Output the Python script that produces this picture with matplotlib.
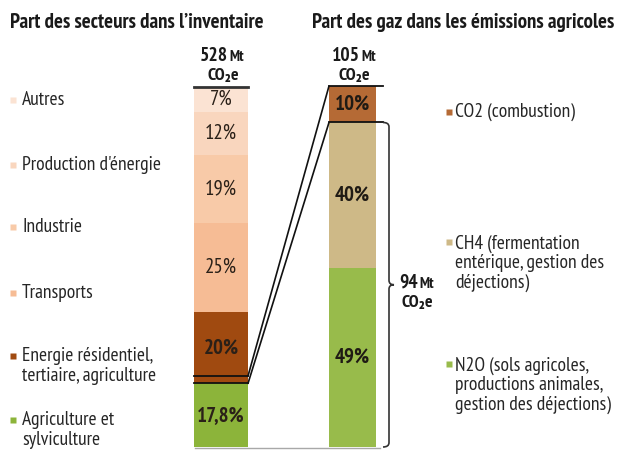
import matplotlib
matplotlib.use("Agg")
from matplotlib import pyplot as plt
from matplotlib import font_manager
from matplotlib.patches import ConnectionPatch, PathPatch
from matplotlib.path import Path
from matplotlib import transforms

# parts des secteurs (du bas vers le haut), en %
secteurs = ["Agriculture et\nsylviculture", "Energie résidentiel,\ntertiaire, agriculture",
            "Transports", "Industrie", "Production d'énergie", "Autres"]
parts_secteurs = [17.8, 20, 25, 19, 12, 7]
couleurs_secteurs = ["#8cb43a", "#a04a10", "#f6bc95", "#f8caa8", "#f9d6be", "#fbe3d3"]

# parts des gaz dans les emissions agricoles (du bas vers le haut), en %
gaz = ["N2O (sols agricoles,\nproductions animales,\ngestion des déjections)",
       "CH4 (fermentation\nentérique, gestion des\ndéjections)",
       "CO2 (combustion)"]
parts_gaz = [49, 40, 10]
couleurs_gaz = ["#98bb4b", "#ceb987", "#b56a35"]

total_mt = 528
agri_mt = 105
agri_hors_co2_mt = 94

# police etroite avec une graisse grasse si possible
choix = ["Arial Narrow", "Liberation Sans Narrow", "PT Sans Narrow", "Roboto Condensed",
         "Fira Sans Condensed", "IBM Plex Sans Condensed", "Archivo Narrow", "Liberation Sans"]
police = "Liberation Sans"
for p in choix:
    poids = [f.weight for f in font_manager.fontManager.ttflist if f.name == p]
    poids = [int(w) if str(w).isdigit() else (700 if w == "bold" else 400) for w in poids]
    if any(w <= 500 for w in poids) and any(w >= 600 for w in poids):
        police = p
        break
plt.rcParams["font.family"] = [police, "DejaVu Sans"]

fig = plt.figure(figsize=(6.23, 4.5), dpi=100)
W, H = 623, 450

def px_axes(x0, y_top, w, h):
    return fig.add_axes([x0 / W, (H - y_top - h) / H, w / W, h / H])

axl = px_axes(194, 87, 54, 360)
axr = px_axes(329, 86, 54, 361)
ov = fig.add_axes([0, 0, 1, 1], zorder=5)
ov.set_xlim(0, W)
ov.set_ylim(H, 0)
ov.axis("off")

# barre de gauche
bas = 0
for v, c, nom in zip(parts_secteurs, couleurs_secteurs, secteurs):
    axl.bar(0, v, bottom=bas, width=1, color=c)
    gras = c in ("#8cb43a", "#a04a10")
    axl.text(0, bas + v / 2, f"{v:g}%".replace(".", ","), ha="center", va="center",
             fontsize=15, fontweight="bold" if gras else "normal", color="#2a2018")
    bas += v
axl.set_xlim(-0.5, 0.5)
axl.set_ylim(0, sum(parts_secteurs))
axl.axis("off")
axl.plot([-0.5, 0.5], [sum(parts_secteurs)] * 2, color="#333333", lw=2, clip_on=False)

# barre de droite
bas = 0
for v, c in zip(parts_gaz, couleurs_gaz):
    axr.bar(0, v, bottom=bas, width=47 / 54, align="edge", color=c)
    axr.text(47 / 108, bas + v / 2, f"{v}%", ha="center", va="center",
             fontsize=15, fontweight="bold", color="#1f1a14")
    bas += v
axr.set_xlim(0, 1)
axr.set_ylim(0, sum(parts_gaz))
axr.axis("off")

# lignes de liaison
haut_agri = agri_mt / total_mt * 100
haut_sans_co2 = sum(parts_gaz[:2])
for yl in (parts_secteurs[0], haut_agri):
    axl.plot([-0.5, 0.5], [yl, yl], color="#111111", lw=1.3, clip_on=False)
for yr in (haut_sans_co2, sum(parts_gaz)):
    axr.plot([0, 1], [yr, yr], color="#111111", lw=1.3, clip_on=False)
for yl, yr in ((parts_secteurs[0], haut_sans_co2), (haut_agri, sum(parts_gaz))):
    fig.add_artist(ConnectionPatch(xyA=(0.5, yl), coordsA=axl.transData,
                                   xyB=(0, yr), coordsB=axr.transData,
                                   color="#111111", lw=1.2))

# accolade
tr = transforms.blended_transform_factory(ov.transData, axr.transData)
y0, y1 = 0, haut_sans_co2
ym = (y0 + y1) / 2
d = 1.2
xb, xm, xt = 383, 389, 394
verts = [(xb, y1), (xm, y1), (xm, y1 - d), (xm, ym + d), (xm, ym), (xt, ym),
         (xm, ym), (xm, ym - d), (xm, y0 + d), (xm, y0), (xb, y0)]
codes = [Path.MOVETO, Path.CURVE3, Path.CURVE3, Path.LINETO, Path.CURVE3, Path.CURVE3,
         Path.CURVE3, Path.CURVE3, Path.LINETO, Path.CURVE3, Path.CURVE3]
ov.add_patch(PathPatch(Path(verts, codes), transform=tr, fill=False,
                       edgecolor="#333333", lw=1.2, clip_on=False))

# ligne de base
ov.plot([195, 380], [447.5, 447.5], color="#a8a8a8", lw=1)

# titres
ov.text(10, 22, "Part des secteurs dans l’inventaire", fontsize=15, fontweight="bold",
        ha="left", va="center", color="#1a1a1a")
ov.text(312, 22, "Part des gaz dans les émissions agricoles", fontsize=15, fontweight="bold",
        ha="left", va="center", color="#1a1a1a")

# totaux
for xn, y, n, xc, hc in ((228, 56, total_mt, 223, "center"), (360, 56, agri_mt, 354, "center"),
                         (418, 283, agri_hors_co2_mt, 402, "left")):
    ov.text(xn, y, str(n), fontsize=14, fontweight="bold", ha="right", va="center",
            color="#1a1a1a")
    ov.text(xn + 1.5, y + 1, "Mt", fontsize=11, fontweight="bold", ha="left", va="center",
            color="#1a1a1a")
    ov.text(xc, y + 20, "CO₂e", fontsize=13, fontweight="bold", ha=hc,
            va="center", color="#1a1a1a")

# legendes de gauche
y_leg_gauche = [430, 366, 293, 227, 165, 100]
for nom, c, y in zip(secteurs, couleurs_secteurs, y_leg_gauche):
    nl = nom.count("\n")
    y_first = y - nl * 21 / 2
    ov.plot(13, y_first, marker="s", ms=5, color=c, mec="none")
    ov.text(22, y, nom, fontsize=14, ha="left", va="center", linespacing=1.1,
            color="#262626")

# legendes de droite
y_leg_droite = [385, 263, 112]
for nom, c, y in zip(gaz, couleurs_gaz, y_leg_droite):
    nl = nom.count("\n")
    y_first = y - nl * 21 / 2
    ov.plot(449, y_first, marker="s", ms=5, color=c, mec="none")
    ov.text(455, y, nom, fontsize=14, ha="left", va="center", linespacing=1.1,
            color="#262626")

fig.savefig("out.png", dpi=100)
